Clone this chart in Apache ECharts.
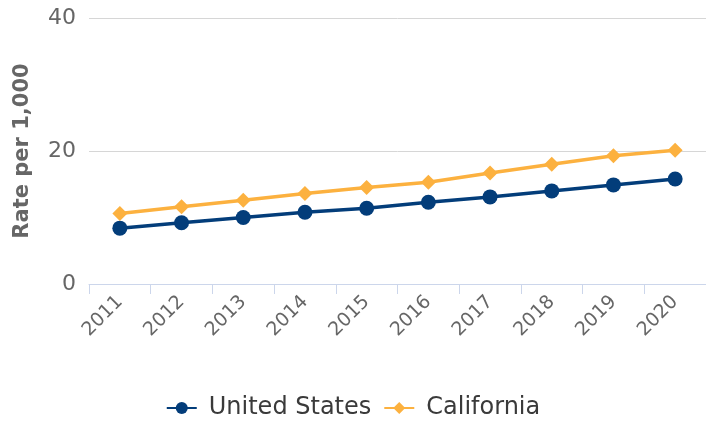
<!DOCTYPE html>
<html>
<head>
<meta charset="utf-8">
<script src="https://cdn.jsdelivr.net/npm/echarts@6/dist/echarts.min.js"></script>
<style>
html,body{margin:0;padding:0;background:#fff;}
#data{width:706px;height:429px;}
</style>
</head>
<body>
<div id="data"></div>
<script>
var years = ['2011','2012','2013','2014','2015','2016','2017','2018','2019','2020'];
var unitedStates = [8.4, 9.2, 10.0, 10.8, 11.4, 12.3, 13.1, 14.0, 14.9, 15.8];
var california = [10.6, 11.6, 12.6, 13.6, 14.5, 15.3, 16.7, 18.0, 19.3, 20.1];

var chart = echarts.init(document.getElementById('data'));
var font = '"DejaVu Sans", Verdana, sans-serif';

chart.setOption({
	animation:false,
	textStyle:{fontFamily:font},
	grid:{
		left:89,
		right:-3,
		top:18,
		bottom:145
	},
	legend:{
		bottom:4,
		left:'center',
		itemWidth:30,
		itemHeight:15,
		itemGap:12,
		textStyle:{fontSize:24,color:'#3a3a3a',fontFamily:font,padding:[0,0,0,7]},
		data:['United States','California']
	},
	xAxis:{
		type:'category',
		boundaryGap:true,
		data:years,
		axisLine:{lineStyle:{color:'#ccd6eb',width:1}},
		axisTick:{show:true,length:10,lineStyle:{color:'#ccd6eb'}},
		axisLabel:{
			rotate:45,
			margin:15,
			fontSize:19,
			color:'#666',
			fontFamily:font
		}
	},
	yAxis:{
		type:'value',
		min:0,
		max:40,
		interval:20,
		name:'Rate per 1,000',
		nameLocation:'middle',
		nameGap:56,
		nameTextStyle:{fontSize:21,fontWeight:'bold',color:'#666',fontFamily:font},
		axisLine:{show:false},
		axisTick:{show:false},
		axisLabel:{fontSize:22,color:'#666',margin:13,fontFamily:font},
		splitLine:{lineStyle:{color:'#d6d6d6',width:1}}
	},
	series:[{
		name:'United States',
		type:'line',
		data:unitedStates,
		symbol:'circle',
		symbolSize:15,
		lineStyle:{width:3.5,color:'#033d7a'},
		itemStyle:{color:'#033d7a'}
	},{
		name:'California',
		type:'line',
		data:california,
		symbol:'diamond',
		symbolSize:15,
		lineStyle:{width:3.5,color:'#fcb13f'},
		itemStyle:{color:'#fcb13f'}
	}]
});
</script>
</body>
</html>
